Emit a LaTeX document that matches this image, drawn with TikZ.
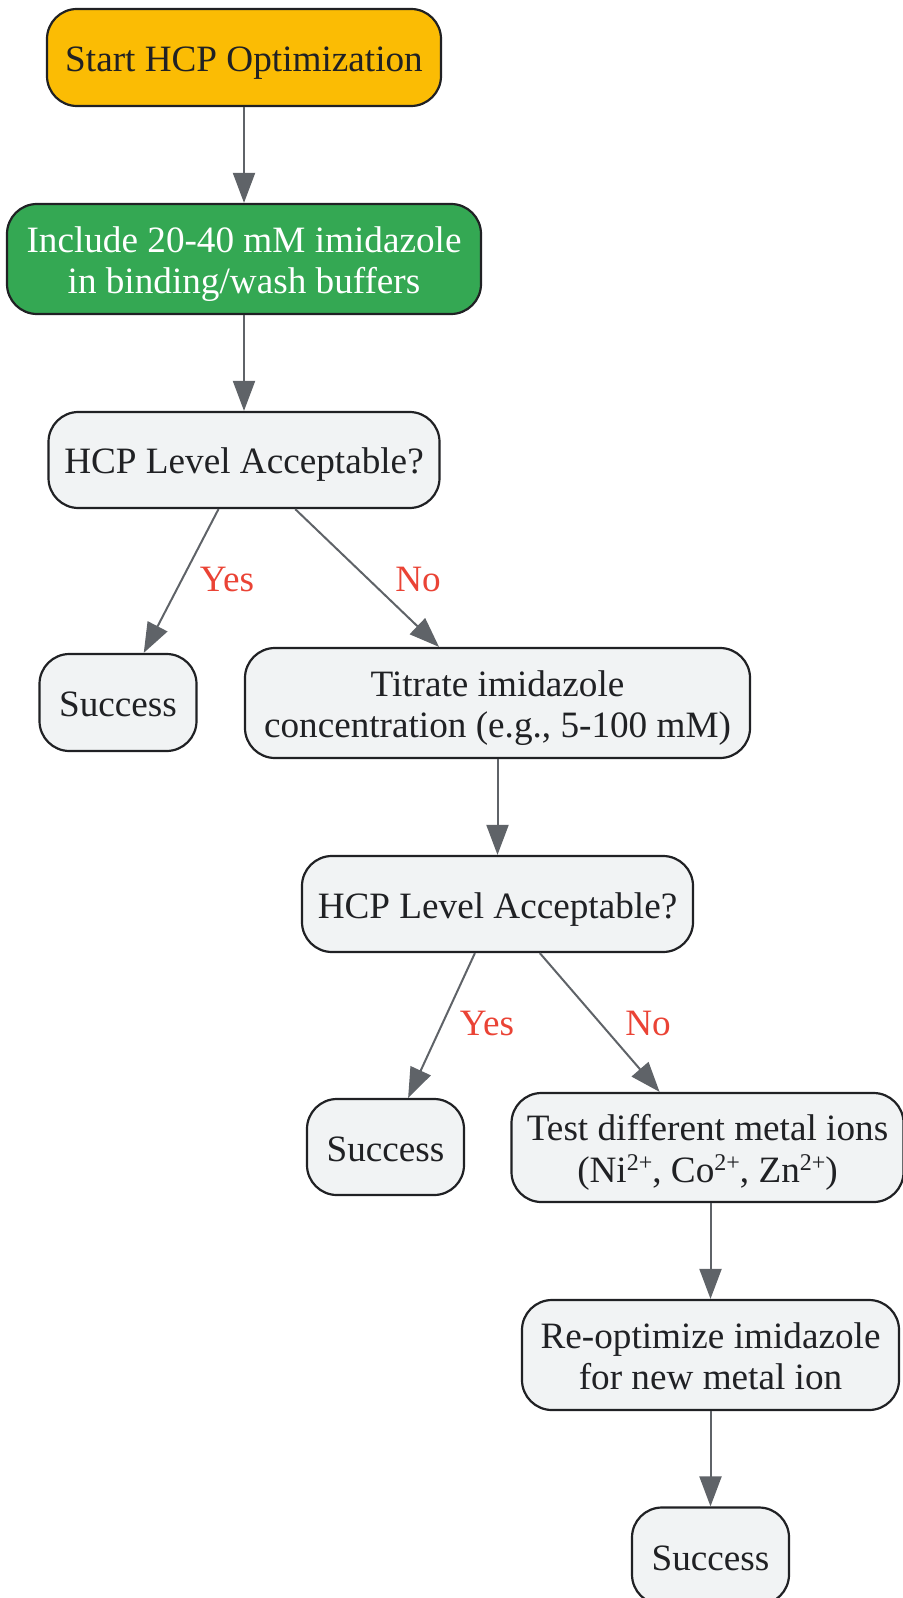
\documentclass[tikz,border=0pt]{standalone}
\usepackage{fontspec}
\setmainfont{Liberation Serif}
\usetikzlibrary{arrows.meta}
\definecolor{startfill}{HTML}{FBBC04}
\definecolor{greenfill}{HTML}{34A853}
\definecolor{grayfill}{HTML}{F1F3F4}
\definecolor{borderc}{HTML}{202124}
\definecolor{arrowc}{HTML}{5F6368}
\definecolor{labelc}{HTML}{EA4335}
\newcommand\topstrut{\rule{0pt}{18.5pt}}
\newcommand\botstrut{\rule[-4.5pt]{0pt}{4.5pt}}
\newcommand\ionsup[1]{\raisebox{6pt}{\fontsize{12}{12}\selectfont #1}}
\tikzset{
  box/.style={draw=borderc, line width=1.1pt, rounded corners=15pt, fill=grayfill,
    text=borderc, align=center, inner sep=0pt,
    font=\fontsize{18.6}{20.75}\selectfont},
  startbox/.style={box, fill=startfill},
  greenbox/.style={box, fill=greenfill, text=white},
  conn/.style={draw=arrowc, line width=1pt, -{Triangle[length=15pt,width=11pt]}},
  lab/.style={text=labelc, font=\fontsize{18.6}{21}\selectfont, inner sep=0pt}
}
\begin{document}
\begin{tikzpicture}[x=0.5pt,y=-0.5pt]
\useasboundingbox (0,0) rectangle (903,1598);
\node[startbox, minimum width=197pt, minimum height=48.5pt] (start) at (244,57.5) {\topstrut Start HCP Optimization\botstrut};
\node[greenbox, minimum width=237pt, minimum height=55pt] (incl) at (244,259) {\topstrut Include 20-40 mM imidazole\\in binding/wash buffers\botstrut};
\node[box, minimum width=195.5pt, minimum height=48pt] (q1) at (244,460) {\topstrut HCP Level Acceptable?\botstrut};
\node[box, minimum width=78.5pt, minimum height=48.5pt] (s1) at (118,702.5) {\topstrut Success\botstrut};
\node[box, minimum width=252.5pt, minimum height=55pt] (tit) at (497.5,703) {\topstrut Titrate imidazole\\concentration (e.g., 5-100 mM)\botstrut};
\node[box, minimum width=195.5pt, minimum height=48pt] (q2) at (497.5,904) {\topstrut HCP Level Acceptable?\botstrut};
\node[box, minimum width=78.5pt, minimum height=48pt] (s2) at (385.5,1147) {\topstrut Success\botstrut};
\node[box, minimum width=196pt, minimum height=54.5pt] (metal) at (707.5,1147.5) {\topstrut Test different metal ions\\(Ni\ionsup{2+}, Co\ionsup{2+}, Zn\ionsup{2+})\botstrut};
\node[box, minimum width=188.5pt, minimum height=55pt] (reopt) at (710.5,1355) {\topstrut Re-optimize imidazole\\for new metal ion\botstrut};
\node[box, minimum width=78.5pt, minimum height=48.5pt] (s3) at (710.5,1556) {\topstrut Success\botstrut};
\draw[conn] (start) -- (incl);
\draw[conn] (incl) -- (q1);
\draw[conn] (q1) -- (s1);
\draw[conn] (q1) -- (tit);
\draw[conn] (tit) -- (q2);
\draw[conn] (q2) -- (s2);
\draw[conn] (q2) -- (metal);
\draw[conn] (metal.south -| reopt.north) -- (reopt.north);
\draw[conn] (reopt) -- (s3);
\node[lab] (y1) at (227,580) {Yes};
\node[lab] (n1) at (418,580) {No};
\node[lab] (y2) at (487,1023) {Yes};
\node[lab] (n2) at (648,1023) {No};
\end{tikzpicture}
\end{document}
